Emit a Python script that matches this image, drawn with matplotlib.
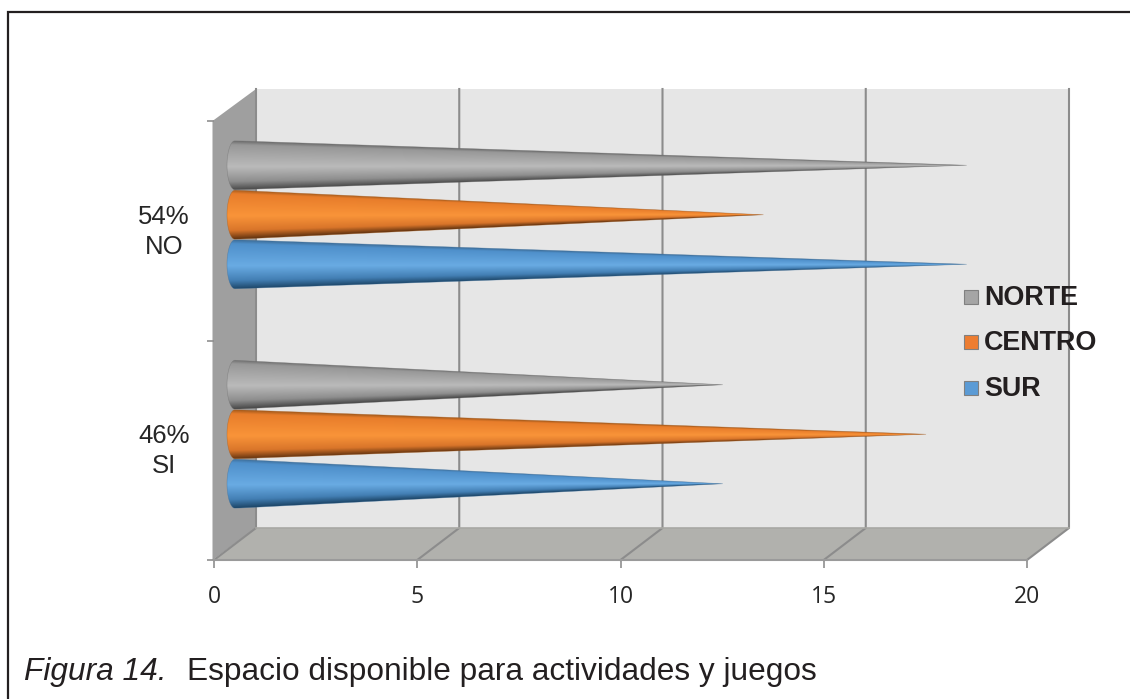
import numpy as np
import matplotlib
matplotlib.use('Agg')
import matplotlib.pyplot as plt
from matplotlib.patches import Polygon, Rectangle

# Survey counts per zone
categories = ['46%\nSI', '54%\nNO']
zones = ['SUR', 'CENTRO', 'NORTE']
sur = [12, 18]
centro = [17, 13]
norte = [12, 18]
x_ticks = [0, 5, 10, 15, 20]

W, H = 1130, 699

# legend colour, gradient stops from upper edge to lower edge
styles = {
    'SUR': ('#5b9bd5', ['#3f709c', '#4f90cb', '#69abe3', '#437fb4', '#1d4668']),
    'CENTRO': ('#ed7d31', ['#a85c1c', '#e87d2b', '#f99439', '#d9752a', '#643410']),
    'NORTE': ('#a5a5a5', ['#6f6f6f', '#989898', '#bababa', '#8e8e8e', '#484848']),
}
stops = [-1.0, -0.85, 0.05, 0.65, 1.0]

fig = plt.figure(figsize=(W / 100, H / 100), dpi=100)

# page rule on the top and left only
frame = fig.add_axes([0, 0, 1, 1])
frame.set_xlim(0, W)
frame.set_ylim(H, 0)
frame.axis('off')
frame.plot([7.5, 7.5, W], [H, 12, 12], color='#231f20', lw=1.6, solid_joinstyle='miter')
frame.text(24, 680, 'Figura 14.', family='Liberation Sans', style='italic',
           fontsize=22.8, color='#231f20', va='baseline')
frame.text(187, 680, 'Espacio disponible para actividades y juegos',
           family='Liberation Sans', fontsize=22.8, color='#231f20', va='baseline')

# main axes is the front plane of the 3d box
left, right, top, bottom = 214, 1027, 121, 560
ax = fig.add_axes([left / W, 1 - bottom / H, (right - left) / W, (bottom - top) / H])
ax.patch.set_alpha(0)
ax.set_xlim(0, 20)
ax.set_ylim(-0.5, 1.5)
for s in ax.spines.values():
    s.set_visible(False)

px_x = 20 / (right - left)
px_y = 2 / (bottom - top)
dx = 42 * px_x
dy = 32 * px_y

# back wall, side wall and floor
ax.add_patch(Polygon([(dx, -0.5 + dy), (20 + dx, -0.5 + dy), (20 + dx, 1.5 + dy), (dx, 1.5 + dy)],
                     fc='#e6e6e6', ec='none', clip_on=False, zorder=1))
ax.add_patch(Polygon([(-1.5 * px_x, -0.5), (dx, -0.5 + dy), (dx, 1.5 + dy), (-1.5 * px_x, 1.5)],
                     fc='#9f9f9f', ec='none', clip_on=False, zorder=1))
ax.add_patch(Polygon([(0, -0.5), (20, -0.5), (20 + dx, -0.5 + dy), (dx, -0.5 + dy)],
                     fc='#b1b1ad', ec='none', clip_on=False, zorder=1))

# gridlines run along the floor and up the back wall
for v in x_ticks:
    ax.plot([v, v + dx, v + dx], [-0.5, -0.5 + dy, 1.5 + dy], color='#8c8c8c', lw=1.5,
            clip_on=False, zorder=2, solid_joinstyle='miter')
ax.plot([dx, 20 + dx], [-0.5 + dy, -0.5 + dy], color='#a8a8a4', lw=1.2, clip_on=False, zorder=2)

# axis lines and ticks
ax.plot([0, 20], [-0.5, -0.5], color='#9a9a9a', lw=1.5, clip_on=False, zorder=3)
ax.set_xticks(x_ticks)
ax.set_yticks([-0.5, 0.5, 1.5])
ax.set_yticklabels([])
ax.tick_params(axis='x', length=6, width=1.2, color='#8f8f8f', pad=12, labelsize=16.5,
               labelcolor='#262626')
ax.tick_params(axis='y', length=5, width=1.2, color='#8f8f8f')
for lab in ax.get_xticklabels():
    lab.set_family('Open Sans')

for i, c in enumerate(categories):
    ax.text(-1.23, i - 0.005, c, ha='center', va='center', family='Liberation Sans', fontsize=18.5,
            color='#262626', linespacing=1.32)

# cones sit at half depth in the box
bar_step = 49.5 * px_y
half_h = 24.5 * px_y
base_a = 8 * px_x
x0 = dx / 2
y_shift = dy / 2


def draw_cone(value, y, zone):
    colors = np.array([matplotlib.colors.to_rgb(c) for c in styles[zone][1]])
    tip = x0 + value
    xs = np.linspace(x0 - base_a, tip, 500)
    ys = np.linspace(y - half_h, y + half_h, 220)
    gx, gy = np.meshgrid(xs, ys)
    hw = half_h * np.clip((tip - gx) / value, 0.002, None)
    # y grows upward here, stops run from the upper edge down
    t = -np.clip((gy - y) / hw, -1, 1)
    rgb = np.dstack([np.interp(t, stops, colors[:, k]) for k in range(3)])
    im = ax.imshow(rgb, extent=(xs[0], xs[-1], ys[0], ys[-1]), origin='lower', aspect='auto',
                   zorder=4, interpolation='bilinear')
    theta = np.linspace(np.pi / 2, 3 * np.pi / 2, 40)
    outline = np.column_stack([x0 + base_a * np.cos(theta), y + half_h * np.sin(theta)])
    outline = np.vstack([outline, [tip, y]])
    patch = Polygon(outline, closed=True, fc='none', ec=styles[zone][1][0], lw=0.4, alpha=0.55, zorder=5)
    ax.add_patch(patch)
    im.set_clip_path(patch)


series = {'SUR': sur, 'CENTRO': centro, 'NORTE': norte}
for k, zone in enumerate(zones):
    for i, val in enumerate(series[zone]):
        draw_cone(val, i + (k - 1) * bar_step + y_shift, zone)

ax.set_xlim(0, 20)
ax.set_ylim(-0.5, 1.5)

# legend drawn by hand so it overlaps the wall like the other labels
for zone, yy, base in zip(['NORTE', 'CENTRO', 'SUR'], [296.5, 342, 388], [305, 350, 396]):
    frame.add_patch(Rectangle((964, yy - 7), 14, 14, fc=styles[zone][0], ec='#808080', lw=0.8, zorder=6))
    frame.text(984, base, zone, family='Liberation Sans', weight='bold', fontsize=19.4,
               color='#231f20', va='baseline', zorder=6)
frame.set_zorder(5)

fig.savefig('out.png', dpi=100)
